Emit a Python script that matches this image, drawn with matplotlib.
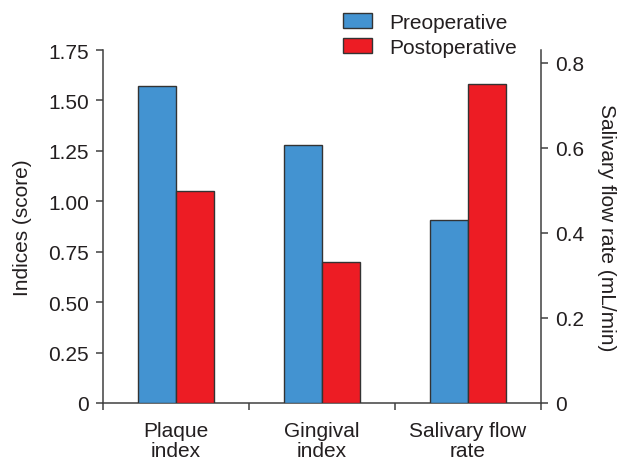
import numpy as np
import matplotlib
matplotlib.use("Agg")
from matplotlib import pyplot as plt
from matplotlib.patches import Patch

plt.rcParams['font.family'] = ['Liberation Sans', 'DejaVu Sans']

# 数据
categories = ["Plaque\nindex", "Gingival\nindex", "Salivary flow\nrate"]
series_names = ["Preoperative", "Postoperative"]
preop_indices = [1.57, 1.28]      # 左轴 (score)
postop_indices = [1.05, 0.70]
preop_flow = [0.43]               # 右轴 (mL/min)
postop_flow = [0.75]
left_ticks = [0, 0.25, 0.50, 0.75, 1.00, 1.25, 1.50, 1.75]
left_ticklabels = ["0", "0.25", "0.50", "0.75", "1.00", "1.25", "1.50", "1.75"]
right_ticks = [0, 0.2, 0.4, 0.6, 0.8]
right_ticklabels = ["0", "0.2", "0.4", "0.6", "0.8"]

blue = "#4393d1"
red = "#ed1c24"
edge = "#333333"
txt = "#231f20"
fs = 15

fig = plt.figure(figsize=(6.21, 4.60), dpi=100)
ax = fig.add_axes([103/621, 1 - 404/460, 438/621, 353/460])
ax2 = ax.twinx()

centers = np.arange(len(categories)) + 0.5
w = 0.26

# 左轴: 菌斑指数, 牙龈指数
ax.bar(centers[:2] - w/2, preop_indices, w, color=blue, edgecolor=edge, linewidth=1.0, zorder=3)
ax.bar(centers[:2] + w/2, postop_indices, w, color=red, edgecolor=edge, linewidth=1.0, zorder=3)
# 右轴: 唾液流率
ax2.bar(centers[2:] - w/2, preop_flow, w, color=blue, edgecolor=edge, linewidth=1.0, zorder=3)
ax2.bar(centers[2:] + w/2, postop_flow, w, color=red, edgecolor=edge, linewidth=1.0, zorder=3)

ax.set_xlim(0, 3)
ax.set_ylim(0, 1.75)
ax2.set_ylim(0, 0.83)

ax.set_yticks(left_ticks)
ax.set_yticklabels(left_ticklabels)
ax2.set_yticks(right_ticks)
ax2.set_yticklabels(right_ticklabels)

# x轴: 主刻度在分组边界, 次刻度放标签
ax.set_xticks([0, 1, 2, 3])
ax.set_xticklabels([])
ax.set_xticks(centers, minor=True)
ax.set_xticklabels(categories, minor=True, fontsize=fs, color=txt, linespacing=1.05)
ax.tick_params(axis='x', which='minor', length=0, pad=13)
ax.tick_params(axis='x', which='major', length=5, width=1.1, color="#404040", direction='out')

ax.tick_params(axis='y', length=5, width=1.1, color="#404040", pad=5, labelsize=fs, labelcolor=txt)
ax2.tick_params(axis='y', length=5, width=1.1, color="#404040", pad=5, labelsize=fs, labelcolor=txt)

for a in (ax, ax2):
    a.spines['top'].set_visible(False)
    for s in a.spines.values():
        s.set_color("#404040")
        s.set_linewidth(1.1)
ax2.spines['left'].set_visible(False)
ax2.spines['bottom'].set_visible(False)
ax.spines['right'].set_visible(False)

ax.set_ylabel("Indices (score)", fontsize=fs, color=txt, labelpad=12)
ax2.set_ylabel("Salivary flow rate (mL/min)", fontsize=fs, color=txt, rotation=270,
               va='bottom', labelpad=9)

handles = [Patch(facecolor=blue, edgecolor=edge, linewidth=1.0),
           Patch(facecolor=red, edgecolor=edge, linewidth=1.0)]
leg = fig.legend(handles, series_names, loc='upper left', bbox_to_anchor=(343/621, 1 - 14/460),
                 frameon=False, fontsize=fs, handlelength=1.4, handleheight=0.72,
                 handletextpad=0.8, labelspacing=0.28, borderpad=0, borderaxespad=0)
for t in leg.get_texts():
    t.set_color(txt)

plt.savefig("out.png", dpi=100)
